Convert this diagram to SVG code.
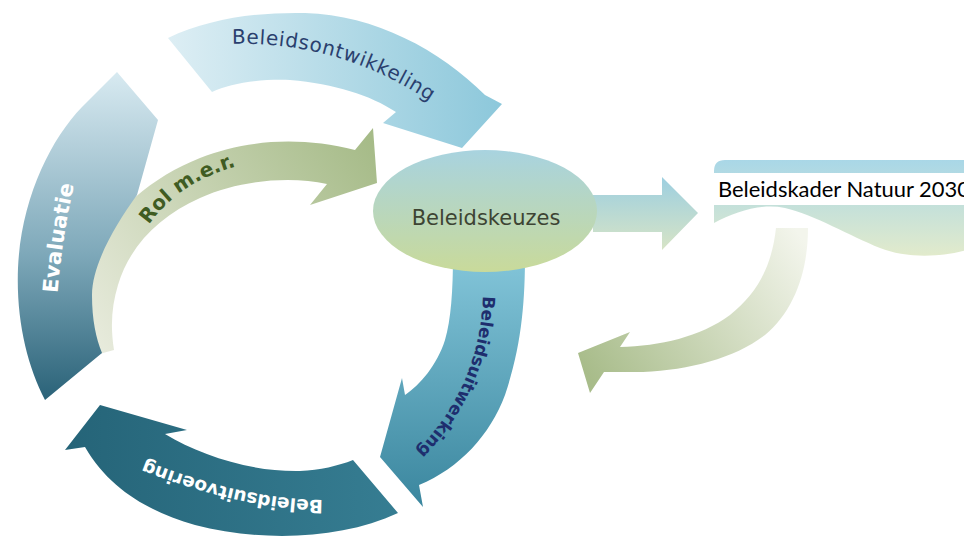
<svg xmlns="http://www.w3.org/2000/svg" width="964" height="538" viewBox="0 0 964 538">
<defs>
<linearGradient id="gEval" gradientUnits="userSpaceOnUse" x1="0" y1="400" x2="0" y2="72"><stop offset="0" stop-color="#2A6278"/><stop offset="0.45" stop-color="#7FA9BA"/><stop offset="1" stop-color="#D8EAF1"/></linearGradient>
<linearGradient id="gOntw" gradientUnits="userSpaceOnUse" x1="168" y1="0" x2="500" y2="0"><stop offset="0" stop-color="#DDEEF4"/><stop offset="1" stop-color="#8DC8DB"/></linearGradient>
<linearGradient id="gRol" gradientUnits="userSpaceOnUse" x1="95" y1="350" x2="377" y2="150"><stop offset="0" stop-color="#E8EBDD"/><stop offset="1" stop-color="#A6BB88"/></linearGradient>
<linearGradient id="gUitw" gradientUnits="userSpaceOnUse" x1="0" y1="255" x2="0" y2="507"><stop offset="0" stop-color="#84C6DA"/><stop offset="1" stop-color="#3A869E"/></linearGradient>
<linearGradient id="gUitv" gradientUnits="userSpaceOnUse" x1="398" y1="0" x2="65" y2="0"><stop offset="0" stop-color="#367D92"/><stop offset="1" stop-color="#256478"/></linearGradient>
<linearGradient id="gEll" gradientUnits="userSpaceOnUse" x1="0" y1="149" x2="0" y2="272"><stop offset="0" stop-color="#A8D3E0"/><stop offset="1" stop-color="#C9DA9A"/></linearGradient>
<linearGradient id="gBlock" gradientUnits="userSpaceOnUse" x1="0" y1="177" x2="0" y2="250"><stop offset="0" stop-color="#9DCFE0"/><stop offset="1" stop-color="#D7E4C6"/></linearGradient>
<linearGradient id="gKader" gradientUnits="userSpaceOnUse" x1="0" y1="160" x2="0" y2="258"><stop offset="0" stop-color="#A9D7E7"/><stop offset="1" stop-color="#E3EBCB"/></linearGradient>
<linearGradient id="gRet" gradientUnits="userSpaceOnUse" x1="795" y1="228" x2="585" y2="370"><stop offset="0" stop-color="#F3F5EC"/><stop offset="1" stop-color="#A8BC8A"/></linearGradient>
<path id="tpEval" d="M57,302 Q61,240 76,176"/>
<path id="tpRol" d="M149,225 Q185,173 264,160"/>
<path id="tpOntw" d="M230,44 Q345,40 442,110"/>
<path id="tpUitw" d="M483,292 C482,350 462,410 405,462"/>
<path id="tpUitv" d="M328,500 Q245,501 136,457"/>
</defs>
<style>
.lbl{font-family:"DejaVu Sans","Liberation Sans",sans-serif}
.b{font-weight:bold}
</style>
<rect width="964" height="538" fill="#FFFFFF"/>

<g id="rol-mer">
<path d="M92,356 C86,320 84,290 90,265 C105,215 150,178 200,158 C245,140 300,136 355,150 L373,128 L377,183 L310,205 L327,184 C290,176 240,180 200,198 C160,216 130,245 118,285 C112,305 110,325 114,350 Z" fill="url(#gRol)"/>
<text class="lbl b" font-size="20" fill="#3F5C22"><textPath href="#tpRol" startOffset="0">Rol m.e.r.</textPath></text>
</g>

<g id="evaluatie">
<path d="M45,400 C27,365 16,320 18,268 C21,200 50,140 82,107 L117,72 L158,120 L137,195 C115,225 92,265 92,295 C92,320 96,338 102,353 Z" fill="url(#gEval)"/>
<text class="lbl b" font-size="21" fill="#FFFFFF" text-anchor="middle"><textPath href="#tpEval" startOffset="50%">Evaluatie</textPath></text>
</g>

<g id="beleidsontwikkeling">
<path d="M168,38 C210,18 260,12 305,13 C375,15 440,50 485,95 L502,104 L462,148 L383,123 L396,112 C370,95 335,84 290,80 C255,79 230,84 212,92 Z" fill="url(#gOntw)"/>
<text class="lbl" font-size="20" letter-spacing="0.6" fill="#2A3F6E"><textPath href="#tpOntw" startOffset="2">Beleidsontwikkeling</textPath></text>
</g>

<g id="beleidsuitwerking">
<path d="M453,255 L525,255 C525,300 522,345 505,395 C490,435 460,468 419,485 L423,507 L380,457 L402,378 L405,395 C420,385 437,365 445,340 C451,320 453,290 453,255 Z" fill="url(#gUitw)"/>
<text class="lbl b" font-size="17" fill="#1E2E6E"><textPath href="#tpUitw" startOffset="4">Beleidsuitwerking</textPath></text>
</g>

<g id="beleidsuitvoering">
<path d="M353,460 L398,513 C340,540 260,542 195,525 C150,512 110,490 85,447 L65,450 L100,405 L187,430 L165,434 C200,455 250,472 300,471 C320,470 338,466 353,460 Z" fill="url(#gUitv)"/>
<text class="lbl b" font-size="18.5" fill="#FFFFFF"><textPath href="#tpUitv" startOffset="5">Beleidsuitvoering</textPath></text>
</g>

<g id="connectors">
<path id="arrow-to-kader" d="M593,195 L662,195 L662,177 L698,213 L662,250 L662,232 L593,232 Z" fill="url(#gBlock)"/>
<path id="arrow-return" d="M776,228 L808,228 C808,270 795,310 765,335 C735,358 690,370 643,372 L604,372 L590,393 L578,353 L630,332 L620,347 C660,346 700,337 730,315 C758,293 772,265 776,228 Z" fill="url(#gRet)"/>
</g>

<g id="beleidskeuzes">
<ellipse cx="485" cy="211" rx="112" ry="61" fill="url(#gEll)"/>
<text class="lbl" x="486" y="225" font-size="21" fill="#3D4433" text-anchor="middle">Beleidskeuzes</text>
</g>

<g id="beleidskader">
<path d="M714,171 Q714,160 725,160 L970,160 L970,249 C940,258 905,258 880,248 C850,236 815,215 785,208 C760,203 735,212 714,223 Z" fill="url(#gKader)"/>
<rect x="714" y="173" width="256" height="32" fill="#FFFFFF"/>
<text x="718" y="197" font-family="Lato,'Liberation Sans',sans-serif" font-size="21" fill="#000000" textLength="252" lengthAdjust="spacingAndGlyphs">Beleidskader Natuur 2030</text>
</g>
</svg>
